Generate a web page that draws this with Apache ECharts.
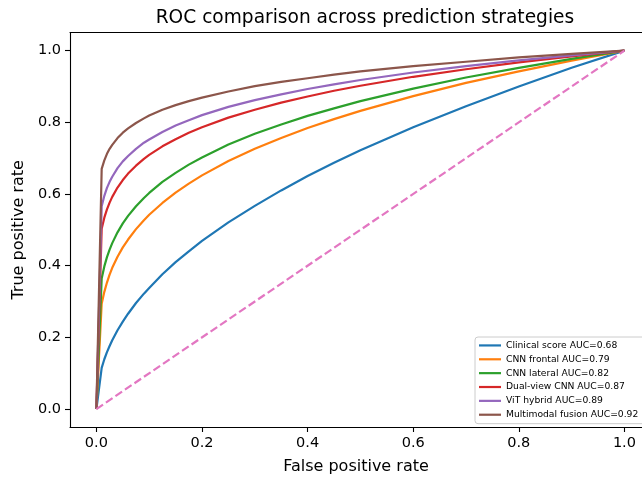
<!DOCTYPE html>
<html>
<head>
<meta charset="utf-8">
<script src="https://cdn.jsdelivr.net/npm/echarts@6/dist/echarts.min.js"></script>
<style>
html,body{margin:0;padding:0;background:#fff;}
#chart{width:642px;height:477px;}
</style>
</head>
<body>
<div id="chart"></div>
<script>
const titleText = "ROC comparison across prediction strategies";
const xName = "False positive rate";
const yName = "True positive rate";
const tickValues = [0, 0.2, 0.4, 0.6, 0.8, 1.0];

const fpr = [0, 0.01, 0.015, 0.02, 0.025, 0.03, 0.04, 0.05, 0.06, 0.075, 0.09, 0.1, 0.125, 0.15, 0.175, 0.2, 0.25, 0.3, 0.35, 0.4, 0.45, 0.5, 0.6, 0.7, 0.8, 0.9, 1.0];

const seriesNames = [
  "Clinical score AUC=0.68",
  "CNN frontal AUC=0.79",
  "CNN lateral AUC=0.82",
  "Dual-view CNN AUC=0.87",
  "ViT hybrid AUC=0.89",
  "Multimodal fusion AUC=0.92"
];

const clinical   = [0, 0.115, 0.139, 0.159, 0.176, 0.192, 0.220, 0.244, 0.266, 0.296, 0.322, 0.338, 0.376, 0.410, 0.440, 0.469, 0.521, 0.567, 0.610, 0.650, 0.687, 0.722, 0.786, 0.845, 0.900, 0.952, 1];
const cnnFrontal = [0, 0.294, 0.327, 0.353, 0.375, 0.394, 0.425, 0.451, 0.473, 0.502, 0.527, 0.542, 0.575, 0.604, 0.629, 0.652, 0.692, 0.726, 0.756, 0.784, 0.809, 0.832, 0.873, 0.910, 0.942, 0.972, 1];
const cnnLateral = [0, 0.364, 0.398, 0.424, 0.445, 0.463, 0.493, 0.518, 0.539, 0.566, 0.589, 0.603, 0.634, 0.659, 0.682, 0.702, 0.738, 0.768, 0.794, 0.818, 0.839, 0.859, 0.894, 0.925, 0.952, 0.977, 1];
const dualView   = [0, 0.503, 0.534, 0.557, 0.576, 0.592, 0.618, 0.639, 0.657, 0.679, 0.698, 0.709, 0.733, 0.753, 0.771, 0.786, 0.813, 0.835, 0.855, 0.872, 0.888, 0.902, 0.927, 0.948, 0.967, 0.984, 1];
const vitHybrid  = [0, 0.566, 0.595, 0.617, 0.634, 0.648, 0.672, 0.691, 0.706, 0.726, 0.743, 0.752, 0.773, 0.791, 0.806, 0.820, 0.843, 0.862, 0.878, 0.893, 0.906, 0.918, 0.939, 0.957, 0.973, 0.987, 1];
const multimodal = [0, 0.670, 0.694, 0.712, 0.726, 0.737, 0.756, 0.771, 0.783, 0.798, 0.811, 0.819, 0.835, 0.848, 0.859, 0.869, 0.886, 0.901, 0.913, 0.923, 0.933, 0.942, 0.957, 0.969, 0.981, 0.991, 1];

const chanceX = [0, 1];
const chanceY = [0, 1];

const colors = ["#1f77b4", "#ff7f0e", "#2ca02c", "#d62728", "#9467bd", "#8c564b"];
const allTpr = [clinical, cnnFrontal, cnnLateral, dualView, vitHybrid, multimodal];

const FONT = "DejaVu Sans";
// the axes span -0.05..1.05 but the right part is cut off by the image edge
const X_MIN = -0.05, X_MAX_VISIBLE = 1.0333;

const series = allTpr.map((tpr, i) => ({
  name: seriesNames[i],
  type: "line",
  xAxisIndex: 0,
  data: fpr.map((x, j) => [x, tpr[j]]),
  showSymbol: false,
  symbol: "none",
  smooth: false,
  lineStyle: { color: colors[i], width: 2.2 },
  itemStyle: { color: colors[i] },
  z: 2 + i,
  silent: true
}));

series.push({
  name: "chance",
  type: "line",
  xAxisIndex: 0,
  data: chanceX.map((x, j) => [x, chanceY[j]]),
  showSymbol: false,
  symbol: "none",
  lineStyle: { color: "#e377c2", width: 2.2, type: [8, 3.5] },
  itemStyle: { color: "#e377c2" },
  z: 10,
  silent: true
});

const chart = echarts.init(document.getElementById("chart"), null, { renderer: "canvas" });

const axisCommon = {
  type: "value",
  splitLine: { show: false },
  axisLine: { show: true, onZero: false, lineStyle: { color: "#000", width: 1.1 } },
  axisTick: { show: true, customValues: tickValues, length: 5, lineStyle: { color: "#000", width: 1.1 } },
  axisLabel: {
    customValues: tickValues,
    formatter: v => Number(v).toFixed(1),
    fontSize: 14.5,
    fontFamily: FONT,
    color: "#000",
    margin: 9
  },
  nameLocation: "middle",
  nameTextStyle: { fontSize: 16, fontFamily: FONT, color: "#000" }
};

chart.setOption({
  animation: false,
  backgroundColor: "#fff",
  title: {
    text: titleText,
    left: 150.7,
    top: 4,
    textStyle: { fontSize: 18.6, fontFamily: FONT, color: "#000", fontWeight: "normal" }
  },
  grid: {
    left: 70,
    top: 32.7,
    right: 0,
    bottom: 50,
    outerBoundsMode: "none",
    containLabel: false,
    show: false
  },
  legend: {
    orient: "vertical",
    left: 475,
    top: 337,
    icon: "rect",
    itemWidth: 22,
    itemHeight: 2.2,
    itemGap: 0,
    padding: [1.5, 20, 2, 4],
    backgroundColor: "rgba(255,255,255,0.85)",
    borderColor: "#cccccc",
    borderWidth: 1,
    borderRadius: 3,
    data: seriesNames,
    textStyle: { fontSize: 9.2, lineHeight: 13.86, fontFamily: FONT, color: "#000" }
  },
  xAxis: [
    Object.assign({}, axisCommon, { min: X_MIN, max: X_MAX_VISIBLE, name: xName, nameGap: 32, position: "bottom" }),
    {
      type: "value", position: "top", min: X_MIN, max: X_MAX_VISIBLE,
      axisLine: { show: true, onZero: false, lineStyle: { color: "#000", width: 1.1 } },
      axisTick: { show: false }, axisLabel: { show: false }, splitLine: { show: false }
    }
  ],
  yAxis: Object.assign({}, axisCommon, { min: -0.05, max: 1.05, name: yName, nameGap: 39 }),
  series: series
});
</script>
</body>
</html>
